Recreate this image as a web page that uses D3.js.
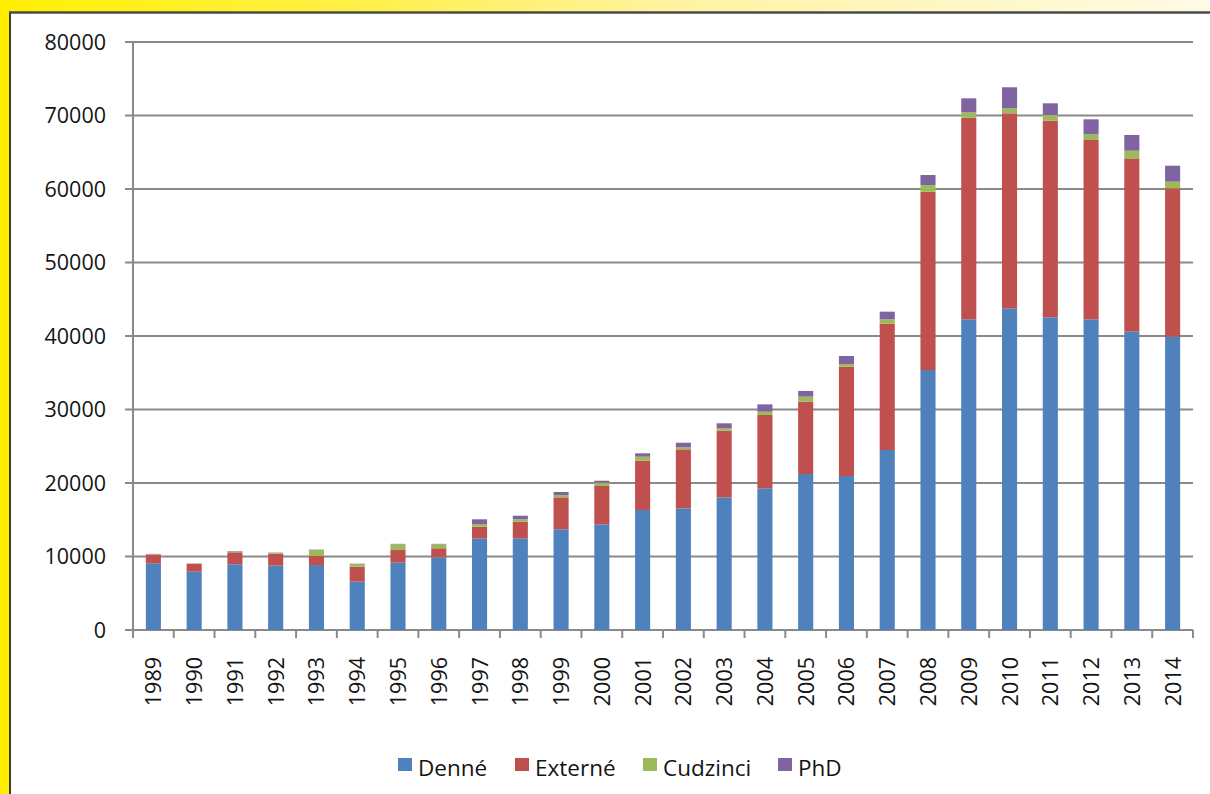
<!DOCTYPE html>
<html>
<head>
<meta charset="utf-8">
<script src="https://cdn.jsdelivr.net/npm/d3@7/dist/d3.min.js"></script>
<style>
html,body{margin:0;padding:0;background:#fff;}
svg{display:block;}
</style>
</head>
<body>
<svg id="chart" width="1210" height="794"></svg>
<script>
const years = ["1989","1990","1991","1992","1993","1994","1995","1996","1997","1998","1999","2000","2001","2002","2003","2004","2005","2006","2007","2008","2009","2010","2011","2012","2013","2014"];
const denne    = [9080,7930,8940,8750,8840,6570,9160,9890,12470,12470,13700,14380,16330,16550,18050,19280,21220,20950,24490,35370,42270,43770,42540,42270,40590,39900];
const externe  = [1120,1050,1630,1630,1230,2040,1720,1230,1580,2260,4350,5210,6700,8030,9070,9970,9840,14880,17200,24260,27430,26530,26760,24400,23580,20190];
const cudzinci = [100,50,130,100,810,370,780,540,370,330,320,450,550,280,320,450,690,360,580,910,730,680,770,770,1040,910];
const phd      = [50,30,50,50,50,40,60,60,640,490,410,270,460,620,680,1000,770,1090,1040,1360,1910,2860,1590,2040,2140,2170];
const seriesNames = ["Denné","Externé","Cudzinci","PhD"];
const seriesColors = ["#4F81BD","#C0504D","#9BBB59","#8064A2"];
const yTicks = [0,10000,20000,30000,40000,50000,60000,70000,80000];

(function(){
const svg = d3.select("#chart");
const W = 1210, H = 794;
const font = "Open Sans, sans-serif";
const textColor = "#141414";

// frame
const defs = svg.append("defs");
const grad = defs.append("linearGradient").attr("id","topg").attr("x1","0").attr("x2","1").attr("y1","0").attr("y2","0");
grad.append("stop").attr("offset","0").attr("stop-color","#FFF000");
grad.append("stop").attr("offset","0.3").attr("stop-color","#FFF04A");
grad.append("stop").attr("offset","0.55").attr("stop-color","#FFF3A0");
grad.append("stop").attr("offset","1").attr("stop-color","#FFFBE6");
svg.append("rect").attr("x",0).attr("y",0).attr("width",W).attr("height",H).attr("fill","#fff");
svg.append("rect").attr("x",0).attr("y",0).attr("width",W).attr("height",12).attr("fill","url(#topg)");
svg.append("rect").attr("x",0).attr("y",0).attr("width",9).attr("height",H).attr("fill","#FFF000");
svg.append("line").attr("x1",10).attr("x2",10).attr("y1",12).attr("y2",H).attr("stroke","#3c3c3c").attr("stroke-width",2);
svg.append("line").attr("x1",9).attr("x2",W).attr("y1",12.5).attr("y2",12.5).attr("stroke","#4a4a4a").attr("stroke-width",2.5);

const pLeft = 133, pRight = 1193, pTop = 42, pBottom = 630;
const x = d3.scaleBand().domain(years).range([pLeft,pRight]).padding(0);
const y = d3.scaleLinear().domain([0,80000]).range([pBottom,pTop]);

const gridColor = "#8a8a8a";
// gridlines
svg.append("g").selectAll("line").data(yTicks).join("line")
  .attr("x1",pLeft-8).attr("x2",pRight)
  .attr("y1",d=>y(d)).attr("y2",d=>y(d))
  .attr("stroke",gridColor).attr("stroke-width",2);

// stacked data
const rows = years.map((yr,i)=>({year:yr,"Denné":denne[i],"Externé":externe[i],"Cudzinci":cudzinci[i],"PhD":phd[i]}));
const stack = d3.stack().keys(seriesNames)(rows);
const barW = x.bandwidth()*0.37;
svg.append("g").selectAll("g").data(stack).join("g")
  .attr("fill",(d,i)=>seriesColors[i])
  .selectAll("rect").data(d=>d).join("rect")
  .attr("x",d=>x(d.data.year)+(x.bandwidth()-barW)/2)
  .attr("width",barW)
  .attr("y",d=>y(d[1]))
  .attr("height",d=>Math.max(0,y(d[0])-y(d[1])));

// y axis
svg.append("line").attr("x1",pLeft).attr("x2",pLeft).attr("y1",pTop).attr("y2",pBottom+1).attr("stroke",gridColor).attr("stroke-width",2);
svg.append("g").selectAll("text").data(yTicks).join("text")
  .attr("x",106).attr("y",d=>y(d)+7.5)
  .attr("text-anchor","end")
  .attr("font-family",font).attr("font-size",21.5).attr("fill",textColor)
  .text(d=>d);

// x axis
svg.append("g").selectAll("line").data(years.concat(["end"])).join("line")
  .attr("x1",(d,i)=>pLeft+i*x.step()).attr("x2",(d,i)=>pLeft+i*x.step())
  .attr("y1",pBottom).attr("y2",pBottom+8)
  .attr("stroke",gridColor).attr("stroke-width",2);
svg.append("g").selectAll("text").data(years).join("text")
  .attr("transform",d=>`translate(${x(d)+x.bandwidth()/2+8},657) rotate(-90)`)
  .attr("text-anchor","end")
  .attr("font-family",font).attr("font-size",21.5).attr("fill",textColor)
  .text(d=>d);

// legend
const legendX = [398,515,643,778];
const lg = svg.append("g").selectAll("g").data(seriesNames).join("g")
  .attr("transform",(d,i)=>`translate(${legendX[i]},758)`);
lg.append("rect").attr("width",14).attr("height",13).attr("fill",(d,i)=>seriesColors[i]);
lg.append("text").attr("x",20).attr("y",18)
  .attr("font-family",font).attr("font-size",22.5).attr("fill",textColor)
  .text(d=>d);
})();
</script>
</body>
</html>
